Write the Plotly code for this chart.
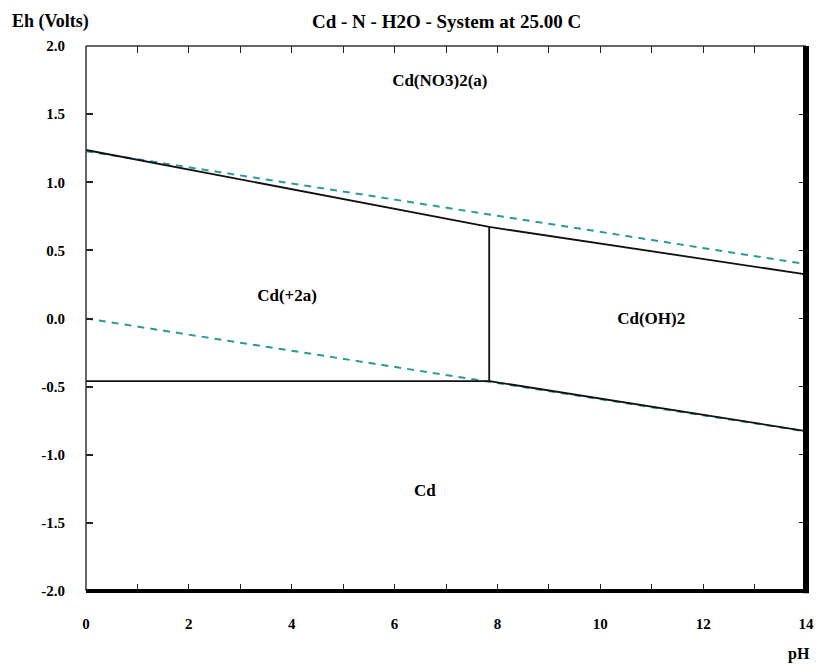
import plotly.graph_objects as go

# Water stability limits (dashed)
ph_o2 = [0, 14]
eh_o2 = [1.228, 0.399]
ph_h2 = [0, 14]
eh_h2 = [0.0, -0.829]

# Phase boundaries (solid)
ph_upper = [0, 7.84, 14]
eh_upper = [1.237, 0.672, 0.324]
ph_cd2_cd = [0, 7.84]
eh_cd2_cd = [-0.459, -0.459]
ph_cd2_oh = [7.84, 7.84]
eh_cd2_oh = [-0.459, 0.672]
ph_oh_cd = [7.84, 14]
eh_oh_cd = [-0.459, -0.826]

# Region labels
region_names = ["Cd(NO3)2(a)", "Cd(+2a)", "Cd(OH)2", "Cd"]
region_ph = [6.88, 3.91, 10.99, 6.59]
region_eh = [1.74, 0.16, -0.01, -1.27]

x_tick_vals = [0, 2, 4, 6, 8, 10, 12, 14]
x_tick_text = ["0", "2", "4", "6", "8", "10", "12", "14"]
y_tick_vals = [2.0, 1.5, 1.0, 0.5, 0.0, -0.5, -1.0, -1.5, -2.0]
y_tick_text = ["2.0", "1.5", "1.0", "0.5", "0.0", "-0.5", "-1.0", "-1.5", "-2.0"]

FONT = "Liberation Serif"
TEAL = "#2A9A98"

fig = go.Figure()

for xs, ys in [(ph_o2, eh_o2), (ph_h2, eh_h2)]:
    fig.add_trace(go.Scatter(x=xs, y=ys, mode="lines",
                             line=dict(color=TEAL, width=2, dash="7px,6px"),
                             hoverinfo="skip", showlegend=False))

for xs, ys in [(ph_upper, eh_upper), (ph_cd2_cd, eh_cd2_cd),
               (ph_cd2_oh, eh_cd2_oh), (ph_oh_cd, eh_oh_cd)]:
    fig.add_trace(go.Scatter(x=xs, y=ys, mode="lines",
                             line=dict(color="#111111", width=1.8),
                             hoverinfo="skip", showlegend=False))

fig.add_trace(go.Scatter(x=region_ph, y=region_eh, mode="text", text=region_names,
                         textfont=dict(family=FONT, size=17, color="black", weight="bold"),
                         hoverinfo="skip", showlegend=False))

# Frame: thin left/top edges, heavy bottom/right edges
fig.add_shape(type="line", xref="paper", yref="paper", x0=0, x1=0, y0=0, y1=1,
              line=dict(color="#333333", width=1.5))
fig.add_shape(type="line", xref="paper", yref="paper", x0=0, x1=1, y0=1, y1=1,
              line=dict(color="#333333", width=1.5))
fig.add_shape(type="line", xref="paper", yref="paper", x0=0, x1=1.004, y0=0, y1=0,
              line=dict(color="black", width=4))
fig.add_shape(type="line", xref="paper", yref="paper", x0=1, x1=1, y0=-0.004, y1=1,
              line=dict(color="black", width=6))

tickfont = dict(family=FONT, size=15, color="black", weight="bold")

fig.update_layout(
    width=818, height=664,
    margin=dict(l=86, r=12, t=46, b=73, autoexpand=False),
    paper_bgcolor="white", plot_bgcolor="white",
    showlegend=False,
    xaxis=dict(range=[0, 14], showgrid=False, zeroline=False, showline=False,
               automargin=False,
               tickmode="array", tickvals=x_tick_vals, ticktext=x_tick_text,
               minor=dict(tickmode="linear", tick0=0, dtick=1, ticks="inside",
                          ticklen=7, tickcolor="#222222", tickwidth=1.2),
               ticks="inside", ticklen=7, tickcolor="#222222", tickwidth=1.2,
               tickfont=tickfont, ticklabelstandoff=22),
    xaxis2=dict(range=[0, 14], overlaying="x", side="top", showgrid=False,
                automargin=False,
                zeroline=False, showline=False, showticklabels=False,
                tickmode="linear", tick0=0, dtick=1, ticks="inside",
                ticklen=7, tickcolor="#222222", tickwidth=1.2),
    yaxis=dict(range=[-2, 2], showgrid=False, zeroline=False, showline=False,
               automargin=False,
               tickmode="array", tickvals=y_tick_vals, ticktext=y_tick_text,
               ticks="inside", ticklen=7, tickcolor="#222222", tickwidth=1.5,
               tickfont=tickfont, ticklabelstandoff=20),
    yaxis2=dict(range=[-2, 2], overlaying="y", side="right", showgrid=False,
                automargin=False,
                zeroline=False, showline=False, showticklabels=False,
                tickmode="linear", tick0=-2, dtick=0.5, ticks="inside",
                ticklen=7, tickcolor="#222222", tickwidth=1.2),
)

# Invisible trace so the mirrored axes are drawn
fig.add_trace(go.Scatter(x=[0, 14], y=[0, 0], xaxis="x2", yaxis="y2", mode="lines",
                         line=dict(width=0), opacity=0, hoverinfo="skip", showlegend=False))

fig.add_annotation(text="Eh (Volts)", xref="paper", yref="paper", x=-0.106, y=1,
                   xanchor="left", yanchor="bottom", yshift=12, showarrow=False,
                   font=dict(family=FONT, size=18, color="black", weight="bold"))
fig.add_annotation(text="Cd - N - H2O - System at 25.00 C", xref="paper", yref="paper",
                   x=(446 - 86) / 720, y=1, xanchor="center", yanchor="bottom", yshift=12,
                   showarrow=False,
                   font=dict(family=FONT, size=19, color="black", weight="bold"))
fig.add_annotation(text="pH", xref="paper", yref="paper", x=1.009, y=0,
                   xanchor="right", yanchor="middle", yshift=-63, showarrow=False,
                   font=dict(family=FONT, size=16, color="black", weight="bold"))

fig.write_html("out.html")
